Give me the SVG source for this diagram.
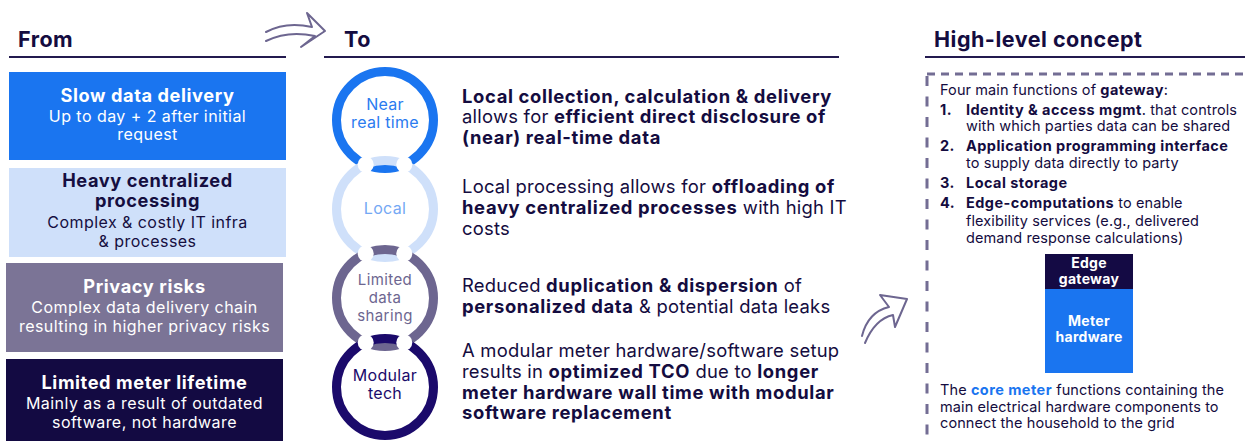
<svg xmlns="http://www.w3.org/2000/svg" width="1245" height="441" viewBox="0 0 1245 441">
<defs>
<style>
text{font-family:Inter,"Liberation Sans",sans-serif;}
.hdr{font-size:21.5px;font-weight:bold;fill:#140c40;letter-spacing:0.5px;}
.rule{stroke:#231a4f;stroke-width:2;}
.bt{font-size:18.2px;font-weight:bold;text-anchor:middle;letter-spacing:0.6px;}
.bs{font-size:16px;text-anchor:middle;letter-spacing:0.45px;}
.ct{font-size:16px;text-anchor:middle;letter-spacing:0.3px;}
.cs{font-size:15px;text-anchor:middle;letter-spacing:0.4px;}
.mid{font-size:18.4px;fill:#140c40;letter-spacing:0.25px;}
.b{font-weight:bold;}
.mid .b{letter-spacing:0.65px;}
.rt{font-size:14.5px;fill:#140c40;letter-spacing:0.1px;}
.rt .b,.rt.b{letter-spacing:0.45px;}
.bx{font-size:14px;font-weight:bold;fill:#ffffff;text-anchor:middle;letter-spacing:0.3px;}
.ring{fill:none;stroke-width:9;}
.blob{fill:#ffffff;}
.sk{fill:none;stroke:#6d6690;stroke-width:2;stroke-linecap:round;stroke-linejoin:round;}
.dash{fill:none;stroke:#736d94;stroke-width:3;}
</style>
</defs>
<rect width="1245" height="441" fill="#ffffff"/>

<g id="headers">
<text class="hdr" x="18" y="47">From</text>
<line class="rule" x1="9" y1="57" x2="286" y2="57"/>
<text class="hdr" x="344" y="47">To</text>
<line class="rule" x1="324" y1="57" x2="839" y2="57"/>
<text class="hdr" x="934" y="47">High-level concept</text>
<line class="rule" x1="925" y1="57" x2="1245" y2="57"/>
</g>

<g id="from-slow">
<rect x="9" y="72" width="277" height="88" fill="#1a75f0"/>
<text class="bt" x="147.5" y="102" fill="#ffffff">Slow data delivery</text>
<text class="bs" x="147.5" y="122" fill="#ffffff">Up to day + 2 after initial</text>
<text class="bs" x="147.5" y="140" fill="#ffffff">request</text>
</g>
<g id="from-heavy">
<rect x="9" y="168" width="277" height="89" fill="#cfe0fa"/>
<text class="bt" x="147.5" y="187" fill="#150e40">Heavy centralized</text>
<text class="bt" x="147.5" y="207" fill="#150e40">processing</text>
<text class="bs" x="147.5" y="228" fill="#150e40">Complex &amp; costly IT infra</text>
<text class="bs" x="147.5" y="247" fill="#150e40">&amp; processes</text>
</g>
<g id="from-privacy">
<rect x="6" y="263" width="277" height="89" fill="#7b7496"/>
<text class="bt" x="144.5" y="293" fill="#ffffff">Privacy risks</text>
<text class="bs" x="144.5" y="313" fill="#ffffff">Complex data delivery chain</text>
<text class="bs" x="144.5" y="332" fill="#ffffff">resulting in higher privacy risks</text>
</g>
<g id="from-lifetime">
<rect x="6" y="359" width="277" height="82" fill="#130a42"/>
<text class="bt" x="144.5" y="389" fill="#ffffff">Limited meter lifetime</text>
<text class="bs" x="144.5" y="409" fill="#ffffff">Mainly as a result of outdated</text>
<text class="bs" x="144.5" y="428" fill="#ffffff">software, not hardware</text>
</g>

<g id="chain">
<circle class="ring" cx="385" cy="120" r="48.5" stroke="#1a75f0"/>
<circle class="ring" cx="385" cy="209" r="48.5" stroke="#cfe0fa"/>
<circle class="ring" cx="385" cy="298" r="48.5" stroke="#6d6690"/>
<circle class="ring" cx="385" cy="387" r="48.5" stroke="#1b0a6b"/>
<circle class="blob" cx="365.7" cy="164.5" r="8"/>
<circle class="blob" cx="404.3" cy="164.5" r="8"/>
<circle class="blob" cx="365.7" cy="253.5" r="8"/>
<circle class="blob" cx="404.3" cy="253.5" r="8"/>
<circle class="blob" cx="365.7" cy="342.5" r="8"/>
<circle class="blob" cx="404.3" cy="342.5" r="8"/>
</g>

<g id="to-near">
<text class="ct" x="385" y="110" fill="#2a7bf0">Near</text>
<text class="ct" x="385" y="128" fill="#2a7bf0">real time</text>
<text class="mid" x="462" y="103"><tspan class="b">Local collection, calculation &amp; delivery</tspan></text>
<text class="mid" x="462" y="123">allows for <tspan class="b">efficient direct disclosure of</tspan></text>
<text class="mid" x="462" y="144"><tspan class="b">(near) real-time data</tspan></text>
</g>
<g id="to-local">
<text class="ct" x="385" y="214" fill="#74a8f4">Local</text>
<text class="mid" x="462" y="193">Local processing allows for <tspan class="b">offloading of</tspan></text>
<text class="mid" x="462" y="214"><tspan class="b">heavy centralized processes</tspan> with high IT</text>
<text class="mid" x="462" y="235">costs</text>
</g>
<g id="to-sharing">
<text class="cs" x="385" y="285" fill="#6d6690">Limited</text>
<text class="cs" x="385" y="303" fill="#6d6690">data</text>
<text class="cs" x="385" y="321" fill="#6d6690">sharing</text>
<text class="mid" x="462" y="292">Reduced <tspan class="b">duplication &amp; dispersion</tspan> of</text>
<text class="mid" x="462" y="313"><tspan class="b">personalized data</tspan> &amp; potential data leaks</text>
</g>
<g id="to-modular">
<text class="ct" x="385" y="381" fill="#1b0a6b">Modular</text>
<text class="ct" x="385" y="399" fill="#1b0a6b">tech</text>
<text class="mid" x="462" y="357">A modular meter hardware/software setup</text>
<text class="mid" x="462" y="378">results in <tspan class="b">optimized TCO</tspan> due to <tspan class="b">longer</tspan></text>
<text class="mid" x="462" y="399"><tspan class="b">meter hardware wall time with modular</tspan></text>
<text class="mid" x="462" y="419"><tspan class="b">software replacement</tspan></text>
</g>

<g id="concept">
<path class="dash" d="M927,74 H1245" stroke-dasharray="8 6"/>
<path class="dash" d="M927,76 V441" stroke-dasharray="10 10.5"/>
<text class="rt" x="940" y="95">Four main functions of <tspan class="b">gateway</tspan>:</text>
<text class="rt b" x="940" y="115">1.</text>
<text class="rt" x="966" y="115"><tspan class="b">Identity &amp; access mgmt</tspan>. that controls</text>
<text class="rt" x="966" y="131">with which parties data can be shared</text>
<text class="rt b" x="940" y="151">2.</text>
<text class="rt b" x="966" y="151">Application programming interface</text>
<text class="rt" x="966" y="168">to supply data directly to party</text>
<text class="rt b" x="940" y="188">3.</text>
<text class="rt b" x="966" y="188">Local storage</text>
<text class="rt b" x="940" y="208">4.</text>
<text class="rt" x="966" y="208"><tspan class="b">Edge-computations</tspan> to enable</text>
<text class="rt" x="966" y="226">flexibility services (e.g., delivered</text>
<text class="rt" x="966" y="243">demand response calculations)</text>
<text class="rt" x="940" y="395">The <tspan class="b" fill="#1a75f0">core meter</tspan> functions containing the</text>
<text class="rt" x="940" y="412">main electrical hardware components to</text>
<text class="rt" x="940" y="428">connect the household to the grid</text>
</g>
<g id="edge-gateway">
<rect x="1045" y="254" width="88" height="35" fill="#140a44"/>
<text class="bx" x="1089" y="268">Edge</text>
<text class="bx" x="1089" y="284">gateway</text>
</g>
<g id="meter-hardware">
<rect x="1045" y="289" width="88" height="84" fill="#1a75f0"/>
<text class="bx" x="1089" y="326">Meter</text>
<text class="bx" x="1089" y="342">hardware</text>
</g>

<g id="connectors">
<path class="sk" d="M266,32 Q286,21 312,27 M266,41 Q288,30 315,36 M312,27 L307,13 L325,31 L301,47 L315,36"/>
<path class="sk" d="M862,336 Q868,312 889,307 M865,343 Q875,319 893,315 M889,307 L880,295 L907,299 L895,327 L893,315"/>
</g>
</svg>
